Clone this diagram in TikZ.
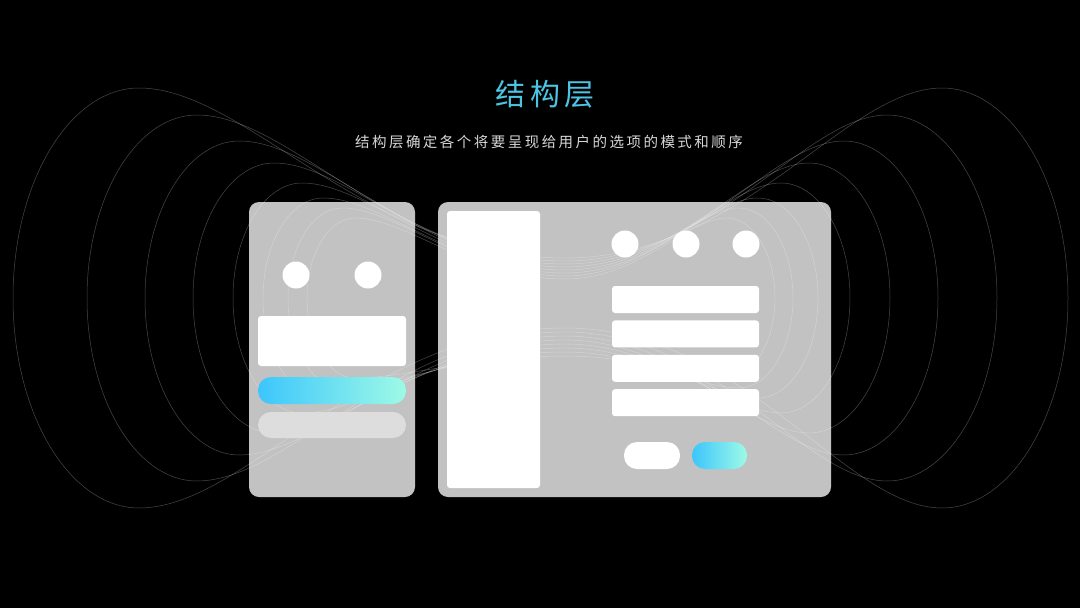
\documentclass[tikz,border=0pt]{standalone}
\usepackage{fontspec}
\usetikzlibrary{positioning}
\newfontfamily\cjktitle[LetterSpace=15]{Noto Sans CJK SC}
\newfontfamily\cjksub[LetterSpace=17]{Noto Sans CJK SC}
\definecolor{cardgray}{RGB}{194,194,194}
\definecolor{pillgray}{RGB}{221,221,221}
\definecolor{gradl}{RGB}{60,198,252}
\definecolor{gradr}{RGB}{158,250,230}
\definecolor{titlecyan}{RGB}{76,196,228}
\definecolor{subgray}{RGB}{215,215,215}

\begin{document}
\begin{tikzpicture}[x=1pt, y=1pt,
  card/.style={rectangle, rounded corners=10, fill=cardgray, inner sep=0},
  blank/.style={rectangle, rounded corners=3, fill=white, inner sep=0},
  dot/.style={circle, fill=white, minimum size=27, inner sep=0},
  pill/.style={rectangle, rounded corners=13, inner sep=0, minimum height=27},
  grad/.style={pill, left color=gradl, right color=gradr},
  wave/.style={white, opacity=0.28, line width=0.5},
  fromloop/.style={out=0, in=180, out looseness=0.6, in looseness=1.1},
  toloop/.style={out=0, in=180, out looseness=1.1, in looseness=0.6}]
  \fill[black] (0,0) rectangle (1080,-608);
  \useasboundingbox (0,0) rectangle (1080,-608);

  \draw (545,-94) node[text=titlecyan, font=\cjktitle\fontsize{30}{30}\selectfont](title) {结构层};
  \draw (549,-142) node[text=subgray, font=\cjksub\fontsize{14.5}{15}\selectfont](subtitle) {结构层确定各个将要呈现给用户的选项的模式和顺序};

  % the two screens
  \draw (332,-349.5) node[card, minimum width=166, minimum height=295](phone) {};
  \draw (634.5,-349.5) node[card, minimum width=393, minimum height=295](pad) {};

  % background waves
  \foreach \xl/\hl/\xr/\hr/\k in {13/210/1068/210/0, 87/183/997/183/1, 145/157/938/157/2, 193/135/890/135/3,
                                   233/115/850/115/4, 263/100/818/100/5, 288/90/793/90/6, 307/80/775/80/7}{
    \pgfmathsetmacro\cl{\xl+0.6*\hl}
    \pgfmathsetmacro\cr{\xr-0.6*\hr}
    \pgfmathsetmacro\al{\cl-0.33*\hl}
    \pgfmathsetmacro\ar{\cr+0.33*\hr}
    \pgfmathsetmacro\ytl{-298+\hl}
    \pgfmathsetmacro\ybl{-298-\hl}
    \pgfmathsetmacro\ytr{-298+\hr}
    \pgfmathsetmacro\ybr{-298-\hr}
    \pgfmathsetmacro\btl{-298+0.552*\hl}
    \pgfmathsetmacro\bbl{-298-0.552*\hl}
    \pgfmathsetmacro\btr{-298+0.552*\hr}
    \pgfmathsetmacro\bbr{-298-0.552*\hr}
    \pgfmathsetmacro\ty{258+3*\k}
    \pgfmathsetmacro\by{328+4*\k}
    \draw[wave] (\cl,\ytl) .. controls (\al,\ytl) and (\xl,\btl) .. (\xl,-298)
      .. controls (\xl,\bbl) and (\al,\ybl) .. (\cl,\ybl)
      to[fromloop] (565,-\by) to[toloop] (\cr,\ybr)
      .. controls (\ar,\ybr) and (\xr,\bbr) .. (\xr,-298)
      .. controls (\xr,\btr) and (\ar,\ytr) .. (\cr,\ytr)
      to[out=180, in=0, out looseness=0.6, in looseness=1.1] (565,-\ty)
      to[out=180, in=0, out looseness=1.1, in looseness=0.6] (\cl,\ytl);
  }

  % phone
  \draw (296,-275) node[dot](pdot1) {};
  \draw (368,-275) node[dot](pdot2) {};
  \draw (332,-341) node[blank, minimum width=148, minimum height=50](pbox) {};
  \draw (332,-390.5) node[grad, minimum width=148](pgo) {};
  \draw (332,-425) node[pill, fill=pillgray, minimum width=148, minimum height=26](pgray) {};

  % pad
  \draw (493.5,-349.5) node[blank, minimum width=93, minimum height=277](side) {};
  \draw (625,-244) node[dot](dot1) {};
  \draw (686,-244) node[dot](dot2) {};
  \draw (746,-244) node[dot](dot3) {};
  \draw (685.5,-299.5) node[blank, minimum width=147, minimum height=27](row1) {};
  \node[blank, minimum width=147, minimum height=27, below=7 of row1](row2) {};
  \node[blank, minimum width=147, minimum height=27, below=7 of row2](row3) {};
  \node[blank, minimum width=147, minimum height=27, below=7 of row3](row4) {};
  \draw (652,-455.5) node[pill, fill=white, minimum width=56](cancel) {};
  \draw (719.5,-455.5) node[grad, minimum width=55](ok) {};
\end{tikzpicture}
\end{document}
